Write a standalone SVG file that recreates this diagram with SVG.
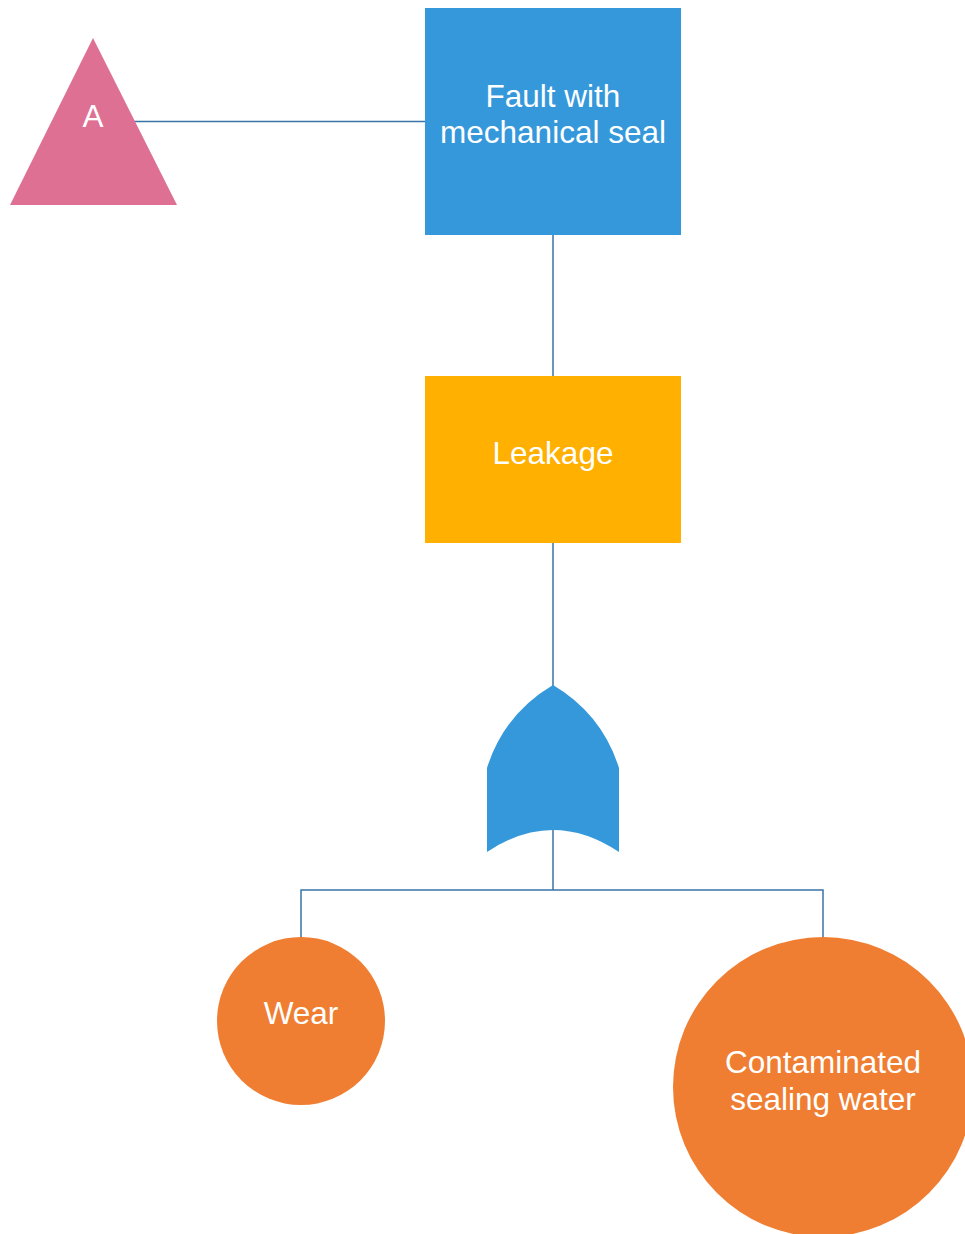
<svg xmlns="http://www.w3.org/2000/svg" width="965" height="1234" viewBox="0 0 965 1234">
<style>
.t{font-family:"Liberation Sans",Arial,sans-serif;font-size:31.5px;fill:#ffffff;text-anchor:middle}
.c{stroke:#3a74a8;stroke-width:1.5;fill:none}
</style>
<rect width="965" height="1234" fill="#ffffff"/>
<g id="connectors">
<line class="c" x1="134" y1="121.5" x2="425" y2="121.5"/>
<line class="c" x1="553" y1="235" x2="553" y2="376"/>
<line class="c" x1="553" y1="543" x2="553" y2="686"/>
<polyline class="c" points="553,830 553,890"/>
<polyline class="c" points="301,937 301,890 823,890 823,937"/>
</g>
<g id="transfer-A">
<polygon points="93,38 177,205 10,205" fill="#de7094"/>
<text class="t" x="93" y="126.5">A</text>
</g>
<g id="fault">
<rect x="425" y="8" width="256" height="227" fill="#3598db"/>
<text class="t" x="553" y="106.5">Fault with</text>
<text class="t" x="553" y="142.5">mechanical seal</text>
</g>
<g id="leakage">
<rect x="425" y="376" width="256" height="167" fill="#ffb000"/>
<text class="t" x="553" y="463.5">Leakage</text>
</g>
<g id="or-gate">
<path d="M553,685 Q602,714 619,768 L619,852 Q553,808 487,852 L487,768 Q504,714 553,685 Z" fill="#3598db"/>
</g>
<g id="wear">
<circle cx="301" cy="1021" r="84" fill="#ef7e32"/>
<text class="t" x="301" y="1024">Wear</text>
</g>
<g id="contaminated">
<circle cx="823" cy="1087" r="150" fill="#ef7e32"/>
<text class="t" x="823" y="1073">Contaminated</text>
<text class="t" x="823" y="1110">sealing water</text>
</g>
</svg>
